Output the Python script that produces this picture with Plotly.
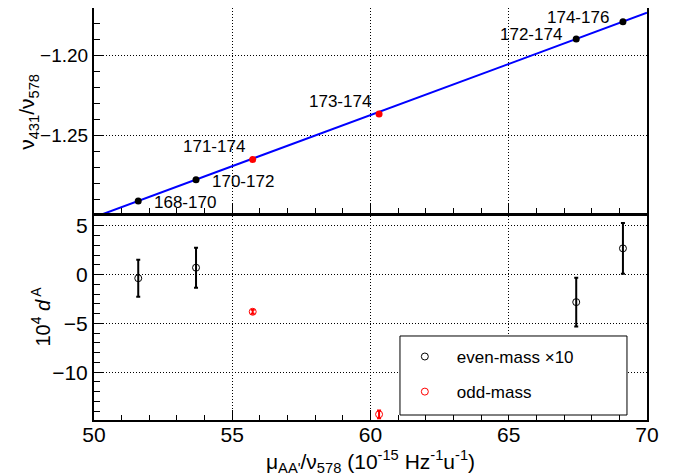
import plotly.graph_objects as go

# ---------------- data ----------------
pair_labels = ["168-170", "170-172", "171-174", "173-174", "172-174", "174-176"]
mu_x = [51.60, 53.69, 55.74, 60.31, 67.44, 69.13]
nu_ratio = [-1.2908, -1.2775, -1.2648, -1.2364, -1.1896, -1.1788]
is_odd = [False, False, True, True, False, False]

fit_x = [50.0, 70.0]
fit_y = [-1.3010, -1.1732]

even_x = [51.60, 53.69, 67.44, 69.13]
even_d = [-0.37, 0.71, -2.82, 2.69]
even_err = [1.9, 2.05, 2.5, 2.6]

odd_x = [55.74, 60.31]
odd_d = [-3.81, -14.32]
odd_err = [0.2, 0.4]

x_ticks = [50, 55, 60, 65, 70]

# label offsets (px) relative to points: (dx, dy)
label_offsets = [(47, -1), (47, -2), (-39, 13), (-39, 12), (-45, 5), (-45, 4)]

FONT = "Liberation Sans, Arial, Helvetica, sans-serif"
GRID_DASH = "1px,2px"

fig = go.Figure()

# top panel: fit line
fig.add_trace(go.Scatter(x=fit_x, y=fit_y, mode="lines",
                         line=dict(color="#0000ff", width=2),
                         xaxis="x", yaxis="y", showlegend=False, cliponaxis=True))
ev_top_x = [x for x, o in zip(mu_x, is_odd) if not o]
ev_top_y = [y for y, o in zip(nu_ratio, is_odd) if not o]
od_top_x = [x for x, o in zip(mu_x, is_odd) if o]
od_top_y = [y for y, o in zip(nu_ratio, is_odd) if o]
fig.add_trace(go.Scatter(x=ev_top_x, y=ev_top_y, mode="markers",
                         marker=dict(color="black", size=7),
                         xaxis="x", yaxis="y", showlegend=False))
fig.add_trace(go.Scatter(x=od_top_x, y=od_top_y, mode="markers",
                         marker=dict(color="#ff0000", size=7),
                         xaxis="x", yaxis="y", showlegend=False))

# bottom panel
fig.add_trace(go.Scatter(x=even_x, y=even_d, mode="markers", name="even-mass \u00d710",
                         marker=dict(symbol="circle-open", color="black", size=7,
                                     line=dict(width=1, color="black")),
                         error_y=dict(type="data", array=even_err, color="black",
                                      thickness=2, width=2),
                         xaxis="x2", yaxis="y2", legendgroup="a"))
fig.add_trace(go.Scatter(x=odd_x, y=odd_d, mode="markers", name="odd-mass",
                         marker=dict(symbol="circle-open", color="#ff0000", size=7,
                                     line=dict(width=1, color="#ff0000")),
                         error_y=dict(type="data", array=odd_err, color="#ff0000",
                                      thickness=2, width=2),
                         xaxis="x2", yaxis="y2", legendgroup="b", cliponaxis=False))

annotations = []
for lab, x, y, (dx, dy) in zip(pair_labels, mu_x, nu_ratio, label_offsets):
    annotations.append(dict(x=x, y=y, xref="x", yref="y", text=lab, showarrow=False,
                            xshift=dx, yshift=dy, font=dict(size=17, color="black", family=FONT)))

annotations += [
    dict(text="\u03bd<sub>431</sub>/\u03bd<sub>578</sub>", xref="paper", yref="paper",
         x=-0.1193, y=0.748, textangle=-90, showarrow=False, xanchor="center", yanchor="middle",
         font=dict(size=21, color="black", family=FONT)),
    dict(text="10<sup>4</sup> <i>d</i><sup> A</sup>", xref="paper", yref="paper",
         x=-0.0958, y=0.251, textangle=-90, showarrow=False, xanchor="center", yanchor="middle",
         font=dict(size=20, color="black", family=FONT)),
    dict(text="\u03bc<sub>AA'</sub>/\u03bd<sub>578</sub> (10<sup>-15</sup> Hz<sup>-1</sup>u<sup>-1</sup>)",
         xref="paper", yref="paper", x=0.5, y=-0.1, showarrow=False,
         xanchor="center", yanchor="middle", font=dict(size=21, color="black", family=FONT)),
]

axis_common = dict(showline=True, linewidth=2, linecolor="black", mirror=True,
                   ticks="inside", ticklen=10, tickwidth=1, tickcolor="black",
                   showgrid=True, gridcolor="black", griddash=GRID_DASH, gridwidth=1,
                   zeroline=False, automargin=False)

fig.update_layout(
    width=679, height=468,
    margin=dict(l=86, r=40, t=0, b=56),
    paper_bgcolor="white", plot_bgcolor="white",
    font=dict(family=FONT, color="black"),
    xaxis=dict(domain=[0, 1], anchor="y", range=[50, 70], tickvals=x_ticks,
               showticklabels=False, minor=dict(ticks="inside", dtick=1, ticklen=5,
                                                tickcolor="black", showgrid=False),
               **axis_common),
    yaxis=dict(domain=[0.5024, 1], anchor="x", range=[-1.2983, -1.1702], dtick=0.05,
               tick0=-1.25, tickformat=".2f",
               tickfont=dict(size=19, color="black", family=FONT),
               minor=dict(ticks="inside", dtick=0.01, ticklen=6, tickcolor="black",
                          showgrid=False),
               **axis_common),
    xaxis2=dict(domain=[0, 1], anchor="y2", range=[50, 70], tickvals=x_ticks,
                ticklabelstandoff=-5,
                tickfont=dict(size=21, color="black", family=FONT),
                minor=dict(ticks="inside", dtick=1, ticklen=5, tickcolor="black",
                           showgrid=False),
                **axis_common),
    yaxis2=dict(domain=[0, 0.495], anchor="x2", range=[-14.9, 6.0], dtick=5, tick0=0,
                tickfont=dict(size=21, color="black", family=FONT),
                minor=dict(ticks="inside", dtick=1, ticklen=6, tickcolor="black",
                           showgrid=False),
                **axis_common),
    legend=dict(x=0.5404, y=0.1967, xanchor="left", yanchor="top",
                bgcolor="rgba(0,0,0,0)", borderwidth=0,
                font=dict(size=17, color="black", family=FONT),
                traceorder="grouped", tracegroupgap=10, itemwidth=54),
    shapes=[dict(type="rect", xref="paper", yref="paper",
                 x0=0.5533, x1=0.9638, y0=0.0121, y1=0.2039,
                 line=dict(color="black", width=1), fillcolor="white", layer="above")],
    annotations=annotations,
)

fig.write_html("out.html")
